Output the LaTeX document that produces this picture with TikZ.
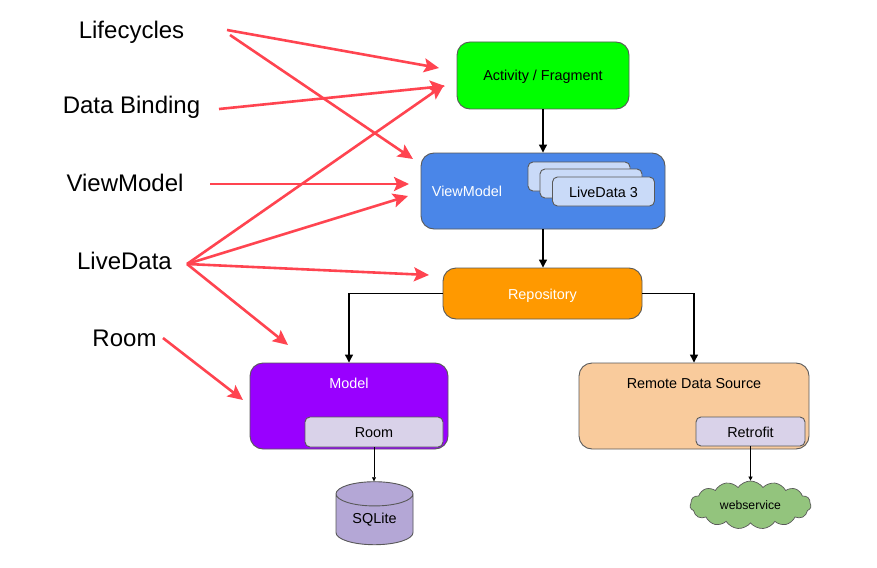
\documentclass[tikz,border=0pt]{standalone}
\usepackage{fontspec}
\setmainfont{Liberation Sans}
\usetikzlibrary{arrows.meta,shapes.geometric,shapes.symbols}

\definecolor{activitygreen}{HTML}{00FF00}
\definecolor{vmblue}{HTML}{4A86E8}
\definecolor{livedatablue}{HTML}{C9DAF8}
\definecolor{repoorange}{HTML}{FF9900}
\definecolor{modelpurple}{HTML}{9900FF}
\definecolor{libgrey}{HTML}{D9D2E9}
\definecolor{remotepeach}{HTML}{F9CB9C}
\definecolor{dbpurple}{HTML}{B4A7D6}
\definecolor{cloudgreen}{HTML}{93C47D}
\definecolor{linegrey}{HTML}{595959}
\definecolor{callred}{HTML}{FF4450}

\begin{document}
\begin{tikzpicture}[x=1pt,y=-1pt,
        box text/.style={font=\fontsize{14.4}{16}\selectfont, inner sep=0pt, text height=11pt, text depth=0pt},
        box/.style={box text, draw=linegrey, line width=.9pt, rounded corners=13pt},
        small box/.style={box, rounded corners=5pt},
        name label/.style={font=\fontsize{24}{28}\selectfont, inner sep=0pt, anchor=base},
        flow/.style={draw, line width=1.2pt, -{Triangle[length=8pt,width=8pt]}},
        thin flow/.style={draw, line width=.6pt, -{Triangle[length=4pt,width=4pt]}},
        call/.style={draw=callred, line width=2.6pt, -{Stealth[length=15pt,width=14pt,inset=3pt]}}
      ]
      \useasboundingbox (0,0) rectangle (877,567);

      % library names down the left side
      \node [name label] (lifecycles) at (131.5,38.5) {Lifecycles};
      \node [name label] (binding) at (131.5,113.5) {Data Binding};
      \node [name label] (vmname) at (125,191) {ViewModel};
      \node [name label] (ldname) at (124.5,269) {LiveData};
      \node [name label] (roomname) at (124.5,346) {Room};

      % architecture layers
      \node [box, fill=activitygreen, minimum width=172pt, minimum height=67pt] (activity) at (543,75.5) {Activity / Fragment};
      \node [box, fill=vmblue, minimum width=244pt, minimum height=76pt] (viewmodel) at (543,191) {};
      \node [box text, text=white] (vmlabel) at (467,191) {ViewModel};
      \node [small box, fill=livedatablue, minimum width=102pt, minimum height=29pt] (ld1) at (579,176.5) {};
      \node [small box, fill=livedatablue, minimum width=102pt, minimum height=29pt] (ld2) at (591,183.5) {};
      \node [small box, fill=livedatablue, minimum width=102pt, minimum height=29pt] (ld3) at (603.5,191.5) {LiveData 3};
      \node [box, fill=repoorange, text=white, minimum width=199pt, minimum height=51pt] (repo) at (542.5,293.5) {Repository};

      \node [box, fill=modelpurple, minimum width=198pt, minimum height=86pt] (model) at (349,406) {};
      \node [box text, text=white] (modellabel) at (349,383) {Model};
      \node [small box, fill=libgrey, minimum width=138pt, minimum height=30pt] (room) at (374,432) {Room};

      \node [box, fill=remotepeach, minimum width=230pt, minimum height=86pt] (remote) at (694,406) {};
      \node [box text] (remotelabel) at (694,383) {Remote Data Source};
      \node [small box, fill=libgrey, minimum width=109pt, minimum height=29pt] (retrofit) at (750.5,431.5) {Retrofit};

      \node [cylinder, shape border rotate=90, aspect=.55, draw=linegrey, line width=.9pt, fill=dbpurple, cylinder uses custom fill,
        cylinder body fill=dbpurple, cylinder end fill=dbpurple, inner sep=0pt, minimum width=77pt, minimum height=63pt,
        font=\fontsize{14.4}{16}\selectfont] (sqlite) at (374.5,519.5) {SQLite};
      \node [cloud, cloud puffs=15, cloud puff arc=110, aspect=2.5, draw=linegrey, line width=.7pt, fill=cloudgreen, inner sep=0pt,
        minimum width=121pt, minimum height=48pt, font=\fontsize{12.2}{14}\selectfont] (webservice) at (750.5,505) {webservice\hspace{7pt}};

      \path [flow] (activity) -- (viewmodel);
      \path [flow] (viewmodel) -- (repo.north -| viewmodel);
      \path [flow] (repo.west) -| (model.north);
      \path [flow] (repo.east) -| (remote.north);
      \path [thin flow] (room) -- (room |- sqlite.north);
      \path [thin flow] (retrofit) -- (retrofit |- webservice.north);

      % ends of the red arrows
      \coordinate (lifeA) at (227,30);
      \coordinate (lifeB) at (230,35);
      \coordinate (bindA) at (219,109);
      \coordinate (vmA) at (210,184);
      \coordinate (ldA) at (187,264);
      \coordinate (roomA) at (163,338);
      \coordinate (toActivityA) at (439,68);
      \coordinate (toActivityB) at (445,86);
      \coordinate (toActivityC) at (444,85);
      \coordinate (toVmA) at (413,159);
      \coordinate (toVmB) at (409,184);
      \coordinate (toVmC) at (408,196);
      \coordinate (toRepo) at (429,275);
      \coordinate (toModelA) at (288,345);
      \coordinate (toModelB) at (243,400);

      \draw [call] (lifeA) -- (toActivityA);
      \draw [call] (lifeB) -- (toVmA);
      \draw [call] (bindA) -- (toActivityB);
      \draw [call] (vmA) -- (toVmB);
      \draw [call] (ldA) -- (toActivityC);
      \draw [call] (ldA) -- (toVmC);
      \draw [call] (ldA) -- (toRepo);
      \draw [call] (ldA) -- (toModelA);
      \draw [call] (roomA) -- (toModelB);
    \end{tikzpicture}
\end{document}
